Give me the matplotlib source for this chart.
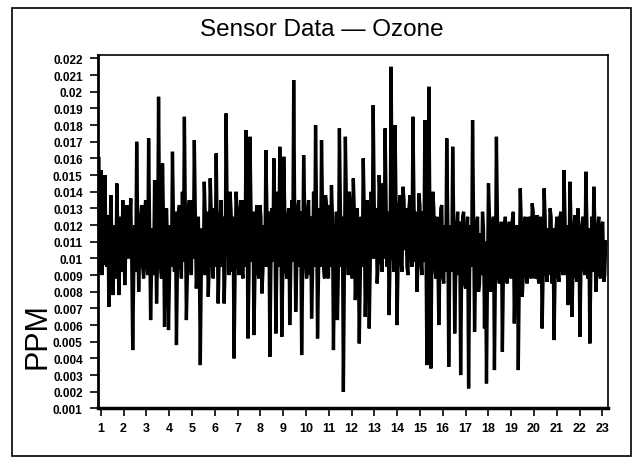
import numpy as np
import matplotlib
matplotlib.use("Agg")
import matplotlib.pyplot as plt
from matplotlib.patches import Rectangle

plt.rcParams['font.family'] = ['Liberation Sans', 'DejaVu Sans']

# ozone readings (ppm), left to right
ppm = [
    0.0160, 0.0153, 0.0120, 0.0150, 0.0095, 0.0071, 0.0138, 0.0078, 0.0120, 0.0145,
    0.0078, 0.0125, 0.0135, 0.0084, 0.0132, 0.0100, 0.0136, 0.0045, 0.0120, 0.0170,
    0.0080, 0.0125, 0.0095, 0.0128, 0.0098, 0.0172, 0.0063, 0.0118, 0.0147, 0.0073,
    0.0197, 0.0095, 0.0157, 0.0059, 0.0130, 0.0057, 0.0120, 0.0164, 0.0092, 0.0048,
    0.0128, 0.0100, 0.0140, 0.0185, 0.0063, 0.0130, 0.0098, 0.0135, 0.0171, 0.0082,
    0.0125, 0.0036, 0.0118, 0.0146, 0.0090, 0.0077, 0.0148, 0.0100, 0.0130, 0.0163,
    0.0073, 0.0125, 0.0095, 0.0073, 0.0187, 0.0110, 0.0140, 0.0092, 0.0040, 0.0140,
    0.0098, 0.0128, 0.0092, 0.0135, 0.0177, 0.0052, 0.0173, 0.0098, 0.0054, 0.0125,
    0.0092, 0.0132, 0.0079, 0.0120, 0.0165, 0.0095, 0.0041, 0.0130, 0.0160, 0.0055,
    0.0140, 0.0167, 0.0053, 0.0161, 0.0095, 0.0125, 0.0060, 0.0135, 0.0207, 0.0068,
    0.0130, 0.0095, 0.0042, 0.0162, 0.0098, 0.0128, 0.0090, 0.0064, 0.0140, 0.0180,
    0.0052, 0.0130, 0.0171, 0.0095, 0.0138, 0.0090, 0.0132, 0.0144, 0.0045, 0.0110,
    0.0063, 0.0178, 0.0095, 0.0020, 0.0173, 0.0105, 0.0140, 0.0092, 0.0148, 0.0075,
    0.0130, 0.0049, 0.0125, 0.0160, 0.0065, 0.0135, 0.0058, 0.0140, 0.0192, 0.0100,
    0.0085, 0.0150, 0.0100, 0.0145, 0.0178, 0.0095, 0.0066, 0.0215, 0.0105, 0.0180,
    0.0060, 0.0130, 0.0098, 0.0143, 0.0105, 0.0095, 0.0130, 0.0105, 0.0185, 0.0098,
    0.0080, 0.0139, 0.0100, 0.0128, 0.0183, 0.0036, 0.0203, 0.0034, 0.0140, 0.0095,
    0.0125, 0.0060, 0.0130, 0.0090, 0.0120, 0.0172, 0.0035, 0.0120, 0.0167, 0.0055,
    0.0118, 0.0090, 0.0030, 0.0125, 0.0085, 0.0115, 0.0022, 0.0120, 0.0183, 0.0056,
    0.0120, 0.0080, 0.0115, 0.0128, 0.0058, 0.0025, 0.0145, 0.0080, 0.0120, 0.0033,
    0.0173, 0.0090, 0.0115, 0.0044, 0.0118, 0.0088, 0.0115, 0.0092, 0.0123, 0.0061,
    0.0115, 0.0033, 0.0142, 0.0077, 0.0120, 0.0090, 0.0118, 0.0092, 0.0133, 0.0095,
    0.0120, 0.0088, 0.0125, 0.0058, 0.0142, 0.0092, 0.0118, 0.0130, 0.0085, 0.0051,
    0.0118, 0.0090, 0.0125, 0.0095, 0.0153, 0.0090, 0.0072, 0.0146, 0.0065, 0.0118,
    0.0090, 0.0130, 0.0053, 0.0118, 0.0095, 0.0152, 0.0088, 0.0049, 0.0125, 0.0143,
    0.0080, 0.0118, 0.0090, 0.0120, 0.0086, 0.0110,
]
# in-between readings (the dense core of the trace), one per gap of ppm
ppm_mid = [
    0.0092, 0.0090, 0.0096, 0.0112, 0.0126, 0.0105, 0.0110, 0.0098, 0.0088, 0.0115,
    0.0102, 0.0092, 0.0112, 0.0105, 0.0118, 0.0115, 0.0100, 0.0090, 0.0092, 0.0118,
    0.0105, 0.0132, 0.0088, 0.0135, 0.0090, 0.0120, 0.0095, 0.0090, 0.0120, 0.0100,
    0.0125, 0.0088, 0.0122, 0.0098, 0.0110, 0.0090, 0.0095, 0.0125, 0.0128, 0.0095,
    0.0132, 0.0088, 0.0098, 0.0125, 0.0090, 0.0135, 0.0090, 0.0100, 0.0128, 0.0095,
    0.0102, 0.0092, 0.0090, 0.0125, 0.0128, 0.0095, 0.0128, 0.0088, 0.0095, 0.0120,
    0.0100, 0.0135, 0.0125, 0.0095, 0.0130, 0.0090, 0.0128, 0.0125, 0.0092, 0.0130,
    0.0090, 0.0135, 0.0088, 0.0095, 0.0128, 0.0090, 0.0130, 0.0128, 0.0090, 0.0132,
    0.0088, 0.0125, 0.0092, 0.0095, 0.0130, 0.0128, 0.0092, 0.0098, 0.0125, 0.0095,
    0.0095, 0.0125, 0.0090, 0.0128, 0.0088, 0.0130, 0.0092, 0.0098, 0.0125, 0.0092,
    0.0135, 0.0128, 0.0092, 0.0130, 0.0088, 0.0135, 0.0125, 0.0092, 0.0095, 0.0128,
    0.0092, 0.0095, 0.0130, 0.0088, 0.0132, 0.0088, 0.0095, 0.0125, 0.0090, 0.0128,
    0.0095, 0.0130, 0.0125, 0.0092, 0.0135, 0.0090, 0.0130, 0.0088, 0.0128, 0.0095,
    0.0105, 0.0090, 0.0095, 0.0128, 0.0092, 0.0125, 0.0095, 0.0100, 0.0135, 0.0130,
    0.0098, 0.0135, 0.0092, 0.0100, 0.0132, 0.0128, 0.0100, 0.0140, 0.0092, 0.0130,
    0.0095, 0.0138, 0.0092, 0.0135, 0.0130, 0.0090, 0.0138, 0.0095, 0.0135, 0.0128,
    0.0095, 0.0132, 0.0090, 0.0098, 0.0120, 0.0092, 0.0128, 0.0098, 0.0130, 0.0088,
    0.0105, 0.0092, 0.0132, 0.0085, 0.0092, 0.0125, 0.0095, 0.0092, 0.0122, 0.0090,
    0.0128, 0.0122, 0.0092, 0.0128, 0.0082, 0.0125, 0.0090, 0.0095, 0.0125, 0.0090,
    0.0125, 0.0085, 0.0090, 0.0118, 0.0110, 0.0090, 0.0125, 0.0088, 0.0125, 0.0092,
    0.0125, 0.0085, 0.0122, 0.0090, 0.0125, 0.0085, 0.0122, 0.0088, 0.0128, 0.0090,
    0.0120, 0.0090, 0.0122, 0.0090, 0.0125, 0.0085, 0.0125, 0.0088, 0.0128, 0.0088,
    0.0126, 0.0085, 0.0120, 0.0090, 0.0125, 0.0086, 0.0090, 0.0125, 0.0118, 0.0088,
    0.0125, 0.0086, 0.0128, 0.0090, 0.0125, 0.0120, 0.0092, 0.0122, 0.0092, 0.0126,
    0.0086, 0.0118, 0.0092, 0.0125, 0.0090, 0.0122, 0.0118, 0.0092, 0.0092, 0.0122,
    0.0090, 0.0125, 0.0088, 0.0122, 0.0090,
]
hour_ticks = list(range(1, 24))
ppm_ticks = [0.001 * k for k in range(1, 23)]

trace = [ppm[0]]
for a, b in zip(ppm_mid, ppm[1:]):
    trace += [a, b]

# samples are evenly spaced over the day
hours = np.linspace(0.92, 23.15, len(trace))

fig = plt.figure(figsize=(6.34, 4.6), dpi=100)
ax = fig.add_axes([0.1546, 0.11, 0.8044, 0.768])

ax.plot(hours, trace, color="black", lw=2.4, solid_joinstyle="miter")

ax.set_xlim(0.88, 23.25)
ax.set_ylim(0.001, 0.0222)
ax.set_xticks(hour_ticks)
ax.set_xticklabels([str(h) for h in hour_ticks], fontsize=9, fontweight="bold")
ax.set_yticks(ppm_ticks)
ax.set_yticklabels([f"{v:g}" for v in ppm_ticks], fontsize=8.5, fontweight="bold")
ax.tick_params(axis="both", direction="out", length=6, width=1.2, color="black")
ax.tick_params(axis="y", pad=5)
ax.tick_params(axis="x", pad=4)
for s in ax.spines.values():
    s.set_linewidth(1.2)
ax.spines["left"].set_linewidth(2)
ax.spines["bottom"].set_linewidth(2.5)

fig.text(38 / 634, 1 - 336 / 460, "PPM", rotation=90, ha="center", va="center", fontsize=22)
fig.text(0.508, 0.935, "Sensor Data \u2014 Ozone", ha="center", va="center", fontsize=17.5)

# outer frame of the slide
fig.add_artist(Rectangle((0.019, 0.007), 0.976, 0.973, transform=fig.transFigure,
                         fill=False, edgecolor="black", lw=1.2))

fig.savefig("out.png", dpi=100)
